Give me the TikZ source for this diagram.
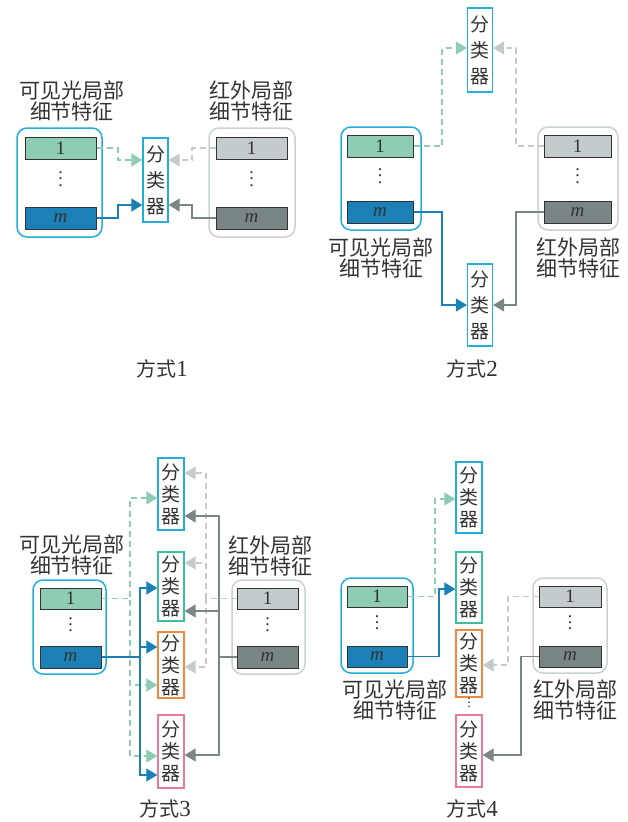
\documentclass[tikz,border=0pt]{standalone}
\usepackage{fontspec}
\setmainfont{Liberation Serif}
\newfontfamily\cjk{Noto Sans CJK SC}
\usetikzlibrary{arrows.meta,calc}
\newcommand\vdt[1]{\vbox{\baselineskip#1\lineskiplimit0pt\hbox{.}\hbox{.}\hbox{.}}}
\definecolor{cyanC}{HTML}{22AEDC}
\definecolor{greenbar}{HTML}{8ECDB3}
\definecolor{bluebar}{HTML}{1A80B5}
\definecolor{lgray}{HTML}{C4CBCC}
\definecolor{dgray}{HTML}{7A8585}
\definecolor{iboxC}{HTML}{C9D1D1}
\definecolor{greenC}{HTML}{3CBF9B}
\definecolor{orangeC}{HTML}{F0893B}
\definecolor{pinkC}{HTML}{E7799F}
\definecolor{txt}{HTML}{333333}
\begin{document}
\begin{tikzpicture}[x=1pt,y=-1pt,
  every node/.style={text=txt, inner sep=0pt},
  vbox/.style={draw=cyanC, line width=1.5pt, rounded corners=10pt},
  ibox/.style={draw=iboxC, line width=1.5pt, rounded corners=10pt},
  barbase/.style={draw=txt, line width=1pt, font=\fontsize{19}{19}\selectfont},
  gbar/.style={barbase, fill=greenbar},
  bbar/.style={barbase, fill=bluebar},
  lbar/.style={barbase, fill=lgray},
  dbar/.style={barbase, fill=dgray},
  cls/.style={draw=#1, line width=1.3pt, fill=white, minimum width=25pt, align=center},
  clsbig/.style={font=\cjk\fontsize{19}{26}\selectfont},
  clssmall/.style={font=\cjk\fontsize{19}{22}\selectfont},
  lbl/.style={align=center, font=\cjk\fontsize{21}{21}\selectfont},
  captxt/.style={font=\fontsize{20}{20}\selectfont},
  dotsn/.style={font=\fontsize{18}{18}\selectfont},
  tip/.style={-{Triangle[length=11pt,width=13pt]}, line width=1.2pt},
  gdash/.style={tip, draw=greenbar, dash pattern=on 6pt off 4pt},
  ldash/.style={tip, draw=lgray, dash pattern=on 6pt off 4pt},
  bsol/.style={tip, draw=bluebar},
  dsol/.style={tip, draw=dgray}
]
\path[use as bounding box] (0,0) rectangle (627,822);

% ---------------- Panel 1 ----------------
\node[lbl] (L1t) at (72,101) {可见光局部\\细节特征};
\node[lbl] (R1t) at (251,101) {红外局部\\细节特征};
\node[vbox, minimum width=85pt, minimum height=109pt] (L1) at (59.5,182.5) {};
\node[gbar, minimum width=71pt, minimum height=22pt] (L1a) at (60.5,148) {1};
\node[bbar, minimum width=71pt, minimum height=22pt] (L1m) at (60.5,218) {\textit{m}};
\node[dotsn] (L1d) at (60.5,179) {\vdt{6.5pt}};
\node[ibox, minimum width=86pt, minimum height=109pt] (R1) at (252,182.5) {};
\node[lbar, minimum width=71pt, minimum height=22pt] (R1a) at (251.5,148) {1};
\node[dbar, minimum width=71pt, minimum height=22pt] (R1m) at (251.5,218) {\textit{m}};
\node[dotsn] (R1d) at (251.5,179) {\vdt{6.5pt}};
\node[cls=cyanC, clsbig, minimum height=84pt] (C1) at (155.5,180) {分\\类\\器};
\draw[gdash] (L1a.east) -| (118,160) -- (C1.west |- 0,160);
\draw[bsol] (L1m.east) -| (118,205) -- (C1.west |- 0,205);
\draw[ldash] (R1a.west) -| (192,160) -- (C1.east |- 0,160);
\draw[dsol] (R1m.west) -| (192,205) -- (C1.east |- 0,205);
\node[captxt] (cap1) at (162,369) {\cjk 方式\rmfamily\fontsize{23}{23}\selectfont 1};

% ---------------- Panel 2 ----------------
\node[cls=cyanC, clsbig, minimum height=84pt] (C2a) at (480,50) {分\\类\\器};
\node[cls=cyanC, clsbig, minimum height=82pt] (C2b) at (480,305) {分\\类\\器};
\node[vbox, minimum width=80pt, minimum height=103pt] (L2) at (381,178.5) {};
\node[gbar, minimum width=66pt, minimum height=22pt] (L2a) at (380,146) {1};
\node[bbar, minimum width=66pt, minimum height=22pt] (L2m) at (380,212) {\textit{m}};
\node[dotsn] (L2d) at (380,176) {\vdt{6.5pt}};
\node[ibox, minimum width=80pt, minimum height=103pt] (R2) at (578,178.5) {};
\node[lbar, minimum width=67pt, minimum height=22pt] (R2a) at (577.5,146) {1};
\node[dbar, minimum width=67pt, minimum height=22pt] (R2m) at (577.5,212) {\textit{m}};
\node[dotsn] (R2d) at (577.5,176) {\vdt{6.5pt}};
\node[lbl] (L2t) at (381,258) {可见光局部\\细节特征};
\node[lbl] (R2t) at (578,258) {红外局部\\细节特征};
\draw[gdash] (L2a.east) -| (442,48) -- (C2a.west |- 0,48);
\draw[ldash] (R2a.west) -| (516,48) -- (C2a.east |- 0,48);
\draw[bsol] (L2m.east) -| (442,305) -- (C2b.west |- 0,305);
\draw[dsol] (R2m.west) -| (516,305) -- (C2b.east |- 0,305);
\node[captxt] (cap2) at (472,369) {\cjk 方式\rmfamily\fontsize{23}{23}\selectfont 2};

% ---------------- Panel 3 ----------------
\node[lbl] (L3t) at (72,555) {可见光局部\\细节特征};
\node[lbl] (R3t) at (270,556) {红外局部\\细节特征};
\node[vbox, minimum width=73pt, minimum height=94pt] (L3) at (69.5,627) {};
\node[gbar, minimum width=61pt, minimum height=21pt] (L3a) at (70.5,598.5) {1};
\node[bbar, minimum width=61pt, minimum height=22pt] (L3m) at (70.5,657) {\textit{m}};
\node[dotsn] (L3d) at (70.5,625) {\vdt{6pt}};
\node[ibox, minimum width=73pt, minimum height=94pt] (R3) at (268.5,627) {};
\node[lbar, minimum width=61pt, minimum height=21pt] (R3a) at (267.5,598.5) {1};
\node[dbar, minimum width=61pt, minimum height=22pt] (R3m) at (267.5,657) {\textit{m}};
\node[dotsn] (R3d) at (267.5,625) {\vdt{6pt}};
\node[cls=cyanC, clssmall, minimum width=26pt, minimum height=72pt] (C3a) at (171,494) {分\\类\\器};
\node[cls=greenC, clssmall, minimum width=26pt, minimum height=69pt] (C3b) at (171,586.5) {分\\类\\器};
\node[cls=orangeC, clssmall, minimum width=26pt, minimum height=66pt] (C3c) at (171,665) {分\\类\\器};
\node[cls=pinkC, clssmall, minimum width=26pt, minimum height=73pt] (C3d) at (171,751.5) {分\\类\\器};
% visible 1 (dashed green), trunk x=130
\draw[gdash] (L3a.east) -| (130,498) -- (C3a.west |- 0,498);
\draw[gdash] (L3a.east) -| (130,685) -- (C3c.west |- 0,685);
\draw[gdash] (L3a.east) -| (130,756) -- (C3d.west |- 0,756);
% visible m (solid blue), trunk x=140
\draw[bsol] (L3m.east) -| (140,588) -- (C3b.west |- 0,588);
\draw[bsol] (L3m.east) -| (140,647) -- (C3c.west |- 0,647);
\draw[bsol] (L3m.east) -| (140,775) -- (C3d.west |- 0,775);
% infrared 1 (dashed gray), trunk x=206
\draw[ldash] (R3a.west) -| (206,473) -- (C3a.east |- 0,473);
\draw[ldash] (R3a.west) -| (206,563) -- (C3b.east |- 0,563);
\draw[ldash] (R3a.west) -| (206,667) -- (C3c.east |- 0,667);
% infrared m (solid gray), trunk x=219
\draw[dsol] (R3m.west) -| (219,516) -- (C3a.east |- 0,516);
\draw[dsol] (R3m.west) -| (219,611) -- (C3b.east |- 0,611);
\draw[dsol] (R3m.west) -| (219,755) -- (C3d.east |- 0,755);
\node[captxt] (cap3) at (165,809) {\cjk 方式\rmfamily\fontsize{23}{23}\selectfont 3};

% ---------------- Panel 4 ----------------
\node[cls=cyanC, clssmall, minimum width=26pt, minimum height=71pt] (C4a) at (469,497.5) {分\\类\\器};
\node[cls=greenC, clssmall, minimum width=26pt, minimum height=71pt] (C4b) at (469,587.5) {分\\类\\器};
\node[cls=orangeC, clssmall, minimum width=26pt, minimum height=67pt] (C4c) at (469,663.5) {分\\类\\器};
\node[font=\fontsize{14}{14}\selectfont] (C4dots) at (469,703) {\vdt{4pt}};
\node[cls=pinkC, clssmall, minimum width=26pt, minimum height=72pt] (C4d) at (469,751) {分\\类\\器};
\node[vbox, minimum width=72pt, minimum height=95pt] (L4) at (377,625.5) {};
\node[gbar, minimum width=60pt, minimum height=21pt] (L4a) at (377,596.5) {1};
\node[bbar, minimum width=60pt, minimum height=21pt] (L4m) at (377,656.5) {\textit{m}};
\node[dotsn] (L4d) at (377,623) {\vdt{6pt}};
\node[ibox, minimum width=74pt, minimum height=95pt] (R4) at (570,625.5) {};
\node[lbar, minimum width=62pt, minimum height=21pt] (R4a) at (570,596.5) {1};
\node[dbar, minimum width=62pt, minimum height=21pt] (R4m) at (570,656.5) {\textit{m}};
\node[dotsn] (R4d) at (570,623) {\vdt{6pt}};
\node[lbl] (L4t) at (395,700) {可见光局部\\细节特征};
\node[lbl] (R4t) at (575,700) {红外局部\\细节特征};
\draw[gdash] (L4a.east) -| (435,499) -- (C4a.west |- 0,499);
\draw[bsol] (L4m.east) -| (439,589) -- (C4b.west |- 0,589);
\draw[ldash] (R4a.west) -| (508,665) -- (C4c.east |- 0,665);
\draw[dsol] (R4m.west) -| (521,755) -- (C4d.east |- 0,755);
\node[captxt] (cap4) at (472,809) {\cjk 方式\rmfamily\fontsize{23}{23}\selectfont 4};
\end{tikzpicture}
\end{document}
